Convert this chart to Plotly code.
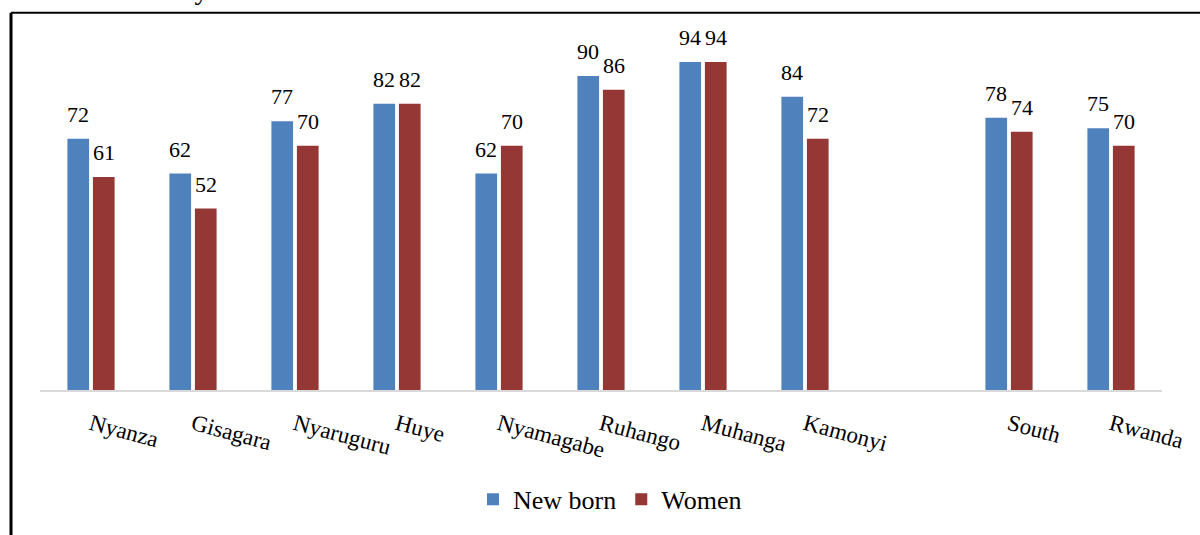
import plotly.graph_objects as go

categories = ["Nyanza", "Gisagara", "Nyaruguru", "Huye", "Nyamagabe", "Ruhango",
              "Muhanga", "Kamonyi", "", "South", "Rwanda"]
new_born = [72, 62, 77, 82, 62, 90, 94, 84, None, 78, 75]
women = [61, 52, 70, 82, 70, 86, 94, 72, None, 74, 70]

BLUE = "#4F81BD"
RED = "#953735"
FONT = "Liberation Serif"

xpos = list(range(len(categories)))

fig = go.Figure()
fig.add_trace(go.Bar(x=xpos, y=new_born, name="New born", marker_color=BLUE,
                     marker_line_width=0))
fig.add_trace(go.Bar(x=xpos, y=women, name="Women", marker_color=RED,
                     marker_line_width=0))

bargap = 0.5
half = (1 - bargap) / 4
annotations = []
for xi, vb, vw in zip(xpos, new_born, women):
    for v, dx in ((vb, -half), (vw, half)):
        if v is None:
            continue
        annotations.append(dict(x=xi + dx, y=v, xref="x", yref="y", text=str(v),
                                showarrow=False, yanchor="bottom", yshift=10,
                                font=dict(family=FONT, size=22, color="black")))

W, H = 1200, 535
L, R, T, B = 40, 38, 41, 143
pw, ph = W - L - R, H - T - B

def px(xp):
    return (xp - L) / pw

def py(yp):
    return (H - B - yp) / ph

# partially cut-off title at very top
annotations.append(dict(x=px(166), y=py(7), xref="paper", yref="paper",
                        text="days after birth", showarrow=False,
                        xanchor="left", yanchor="bottom",
                        font=dict(family=FONT, size=28, color="black")))

shapes = [
    dict(type="line", xref="paper", yref="paper", x0=px(11), x1=px(1205),
         y0=py(12.5), y1=py(12.5), line=dict(color="black", width=2)),
    dict(type="line", xref="paper", yref="paper", x0=px(11), x1=px(11),
         y0=py(12.5), y1=py(540), line=dict(color="black", width=3)),
]

fig.update_layout(
    width=W, height=H,
    margin=dict(l=L, r=R, t=T, b=B),
    paper_bgcolor="white", plot_bgcolor="white",
    barmode="group", bargap=bargap, bargroupgap=0.15,
    font=dict(family=FONT, color="black"),
    showlegend=True,
    legend=dict(orientation="h", x=px(610), y=py(502), xanchor="center",
                yanchor="middle", font=dict(family=FONT, size=26),
                itemwidth=30),
    xaxis=dict(range=[-0.5, len(categories) - 0.5], tickvals=xpos,
               ticktext=categories, tickangle=15, showgrid=False, zeroline=False,
               showline=True, linecolor="#D9D9D9", linewidth=2, ticks="",
               ticklabelstandoff=10,
               tickfont=dict(family=FONT, size=23, color="black")),
    yaxis=dict(range=[0, 100], visible=False, showgrid=False, zeroline=False),
    annotations=annotations,
    shapes=shapes,
)

fig.write_html("out.html", config={"displayModeBar": False},
               post_script="document.body.style.margin='0';document.body.style.overflow='hidden';")
